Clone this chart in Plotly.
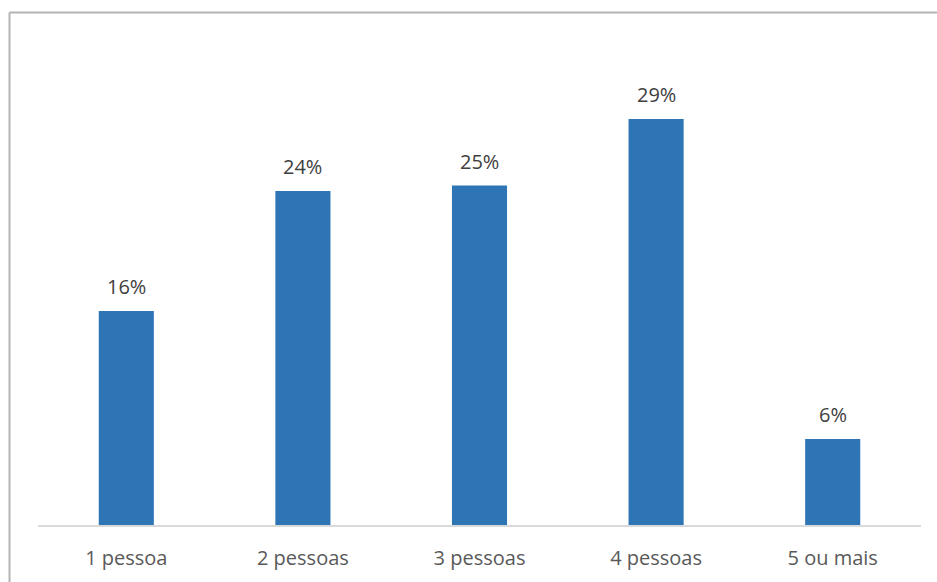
import plotly.graph_objects as go

categories = ["1 pessoa", "2 pessoas", "3 pessoas", "4 pessoas", "5 ou mais"]
values = [15.45, 24.1, 24.5, 29.3, 6.2]
labels = ["16%", "24%", "25%", "29%", "6%"]

W, H = 937, 582
ML, MR, MT, MB = 38, 16, 40, 57
pw = W - ML - MR
ph = H - MT - MB

fig = go.Figure()
fig.add_trace(go.Bar(
    x=categories, y=values,
    marker=dict(color="#2E75B6", line=dict(width=0)),
    hoverinfo="skip",
))
for c, v, t in zip(categories, values, labels):
    fig.add_annotation(x=c, y=v, text=t, showarrow=False, yanchor="bottom",
                       yshift=9, font=dict(family="Open Sans", size=20, color="#404040"))

# outer chart border (left and top)
bx = (9.5 - ML) / pw
by = 1 + (MT - 12.5) / ph
fig.add_shape(type="line", xref="paper", yref="paper", x0=bx, x1=bx, y0=-1, y1=by,
              line=dict(color="#b4b4b4", width=2))
fig.add_shape(type="line", xref="paper", yref="paper", x0=bx, x1=1.2, y0=by, y1=by,
              line=dict(color="#b4b4b4", width=2))

fig.update_layout(
    width=W, height=H,
    margin=dict(l=ML, r=MR, t=MT, b=MB),
    paper_bgcolor="white", plot_bgcolor="white",
    bargap=0.688,
    showlegend=False,
    font=dict(family="Open Sans", size=20, color="#595959"),
    xaxis=dict(showline=True, linecolor="#d9d9d9", linewidth=2, ticks="",
               showgrid=False, ticklabelstandoff=14,
               tickfont=dict(size=20, color="#595959")),
    yaxis=dict(range=[0, 35], visible=False, showgrid=False, zeroline=False),
)
fig.write_html("out.html")
